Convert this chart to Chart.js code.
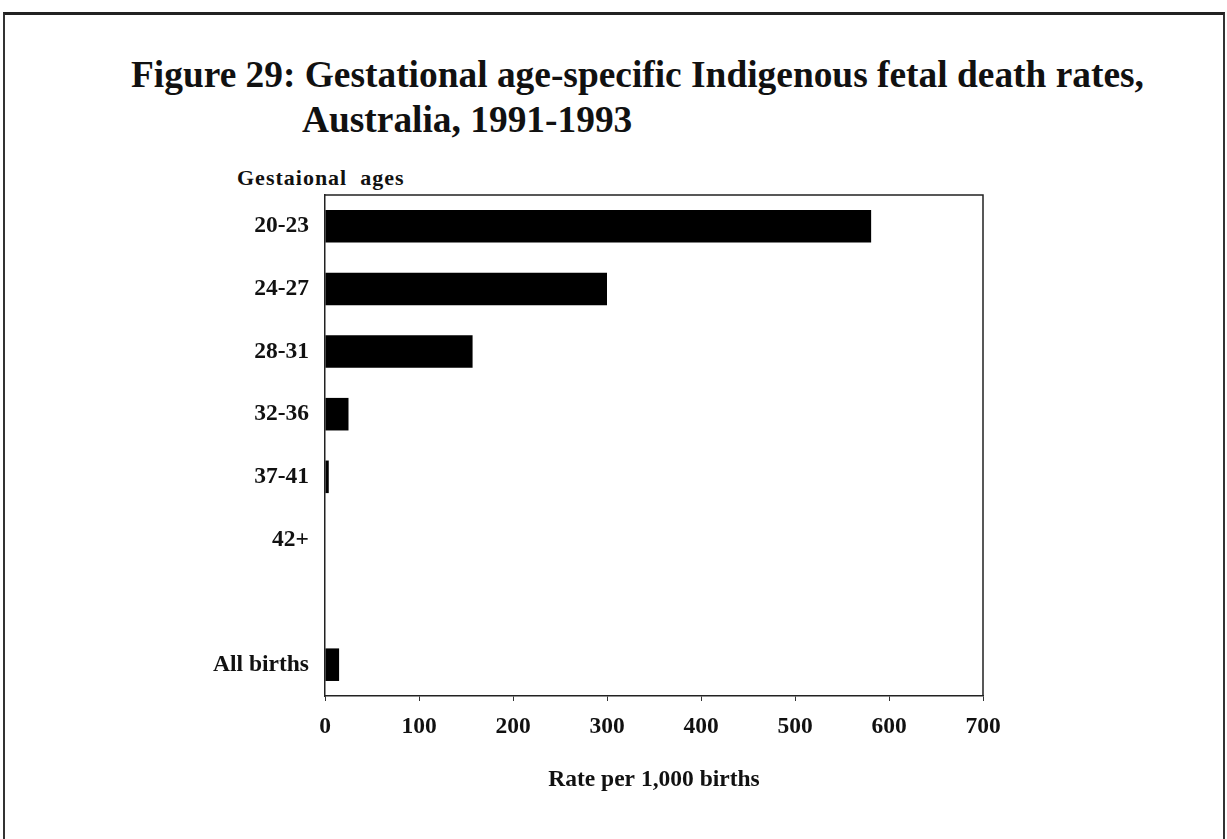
<!DOCTYPE html>
<html>
<head>
<meta charset="utf-8">
<script src="https://cdn.jsdelivr.net/npm/chart.js@4.4.1/dist/chart.umd.min.js"></script>
<style>
  html, body { margin: 0; padding: 0; background: #fff; width: 1227px; height: 839px; overflow: hidden; }
  #frame { position: absolute; left: 3px; top: 12px; width: 1218px; height: 900px; border-top: 3px solid #222; border-left: 2px solid #333; border-right: 2px solid #333; }
  .t { position: absolute; font-family: "Liberation Serif", "Times New Roman", serif; font-weight: bold; color: #111; white-space: nowrap; line-height: 1.15; }
  #t1 { left: 131px; top: 53px; font-size: 37.4px; }
  #t2 { left: 302px; top: 98px; font-size: 37.4px; }
  #ylab { left: 237px; top: 165px; font-size: 22px; letter-spacing: 1px; }
  canvas { position: absolute; left: 0; top: 0; }
</style>
</head>
<body>
<div id="frame"></div>
<div class="t" id="t1">Figure 29: Gestational age-specific Indigenous fetal death rates,</div>
<div class="t" id="t2">Australia, 1991-1993</div>
<div class="t" id="ylab">Gestaional&nbsp; ages</div>
<canvas id="c" width="1227" height="839"></canvas>
<script>
const categories = ['20-23', '24-27', '28-31', '32-36', '37-41', '42+', '', 'All births'];
const rates = [581, 300, 157, 25, 4, 0, null, 15];
const xTicks = [0, 100, 200, 300, 400, 500, 600, 700];
const xTitle = 'Rate per 1,000 births';

const boxPlugin = {
  id: 'box',
  afterDraw(chart) {
    const a = chart.chartArea, ctx = chart.ctx;
    ctx.save();
    ctx.strokeStyle = '#222';
    ctx.lineWidth = 1.5;
    ctx.beginPath();
    ctx.moveTo(a.left, a.top);
    ctx.lineTo(a.right, a.top);
    ctx.lineTo(a.right, a.bottom);
    ctx.stroke();
    ctx.restore();
  }
};

const serif = '"Liberation Serif", "Times New Roman", serif';

new Chart(document.getElementById('c'), {
  type: 'bar',
  data: {
    labels: categories,
    datasets: [{
      data: rates,
      backgroundColor: '#000',
      borderWidth: 0,
      barPercentage: 1,
      categoryPercentage: 0.52
    }]
  },
  options: {
    indexAxis: 'y',
    responsive: false,
    animation: false,
    layout: { padding: { top: 195, right: 244, left: 0, bottom: 0 } },
    plugins: { legend: { display: false }, tooltip: { enabled: false } },
    scales: {
      x: {
        min: 0, max: 700,
        afterBuildTicks(s) { s.ticks = xTicks.map(v => ({ value: v })); },
        afterFit(s) { s.height = 839 - 696; },
        ticks: { font: { family: serif, size: 23.5, weight: 'bold' }, color: '#111', padding: 12 },
        grid: { drawOnChartArea: false, tickLength: 5, color: '#333', lineWidth: 1 },
        border: { color: '#222', width: 1.5 },
        title: { display: true, text: xTitle, color: '#111', font: { family: serif, size: 23.5, weight: 'bold' }, padding: { top: 0, bottom: 45 } }
      },
      y: {
        afterFit(s) { s.width = 325; },
        ticks: { font: { family: serif, size: 23.5, weight: 'bold' }, color: '#111', padding: 16 },
        grid: { drawOnChartArea: false, tickLength: 0, color: '#333' },
        border: { color: '#222', width: 1.5 }
      }
    }
  },
  plugins: [boxPlugin]
});
</script>
</body>
</html>
